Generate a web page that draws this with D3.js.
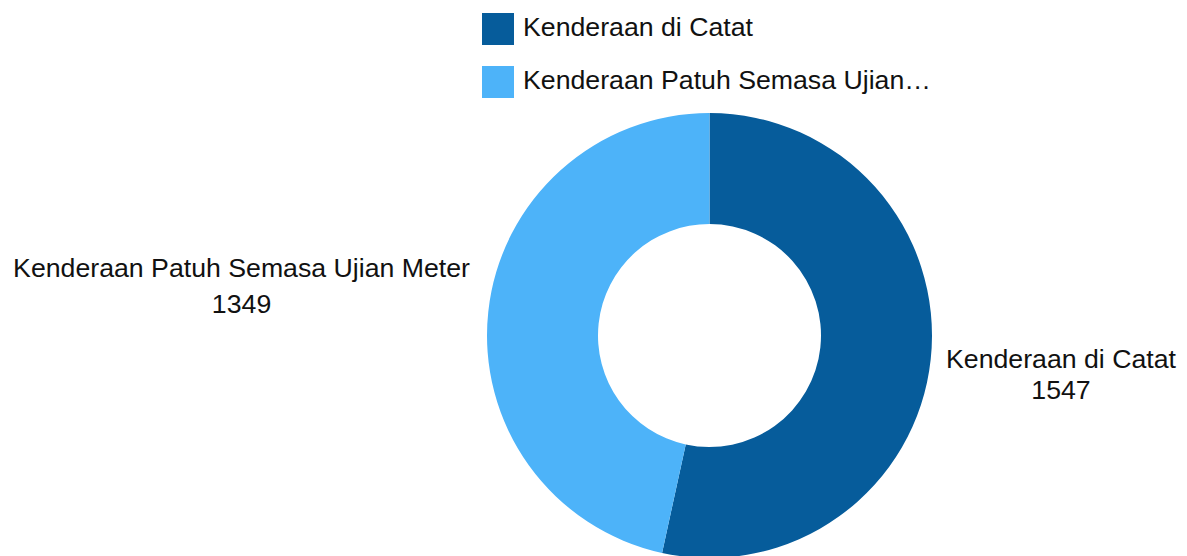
<!DOCTYPE html>
<html>
<head>
<meta charset="utf-8">
<script src="https://cdn.jsdelivr.net/npm/d3@7"></script>
<style>
  body { margin: 0; background: #fff; }
  text { font-family: "Liberation Sans", Arial, sans-serif; fill: #111; }
</style>
</head>
<body>
<script>
// chart data
var categories = ["Kenderaan di Catat", "Kenderaan Patuh Semasa Ujian Meter"];
var values = [1547, 1349];
var colors = ["#065c9b", "#4db3f9"];

var width = 1187;
var height = 556;
var cx = 709.5, cy = 335.5;
var outerR = 222.5, innerR = 111.5;
var fontSize = 26.7;

var svg = d3.select("body").append("svg")
  .attr("width", width)
  .attr("height", height);

var data = categories.map(function(c, i) { return { name: c, value: values[i], color: colors[i] }; });

var pie = d3.pie().sort(null).value(function(d) { return d.value; });
var arc = d3.arc().innerRadius(innerR).outerRadius(outerR);

var g = svg.append("g").attr("transform", "translate(" + cx + "," + cy + ")");

var arcs = pie(data);

g.selectAll("path")
  .data(arcs)
  .enter()
  .append("path")
  .attr("d", arc)
  .attr("fill", function(d) { return d.data.color; });

// slice labels, placed beside the ring on the side of each slice
// (vertical offset and line gap tuned per side)
var labelTweak = [{ dy: 32.5, gap: 31 }, { dy: -58.5, gap: 36 }];

arcs.forEach(function(a, i) {
  var mid = (a.startAngle + a.endAngle) / 2;
  var right = Math.sin(mid) > 0;
  var edgeX = right ? outerR + 14 : -(outerR + 17);
  var t = g.append("text")
    .attr("font-size", fontSize)
    .attr("text-anchor", "middle");
  var l1 = t.append("tspan").attr("x", 0).attr("y", labelTweak[i].dy).text(a.data.name);
  t.append("tspan").attr("x", 0).attr("y", labelTweak[i].dy + labelTweak[i].gap).text(a.data.value);
  var w = l1.node().getComputedTextLength();
  var x = right ? edgeX + w / 2 : edgeX - w / 2;
  t.selectAll("tspan").attr("x", x);
});

// legend
var legendX = 482, legendY = 13, rowH = 53, sw = 32, maxTextW = 410;

var legend = svg.append("g").attr("transform", "translate(" + legendX + "," + legendY + ")");

data.forEach(function(d, i) {
  var row = legend.append("g").attr("transform", "translate(0," + (i * rowH) + ")");
  row.append("rect")
    .attr("width", sw)
    .attr("height", sw)
    .attr("fill", d.color);
  var txt = row.append("text")
    .attr("x", sw + 9)
    .attr("y", 23)
    .attr("font-size", fontSize)
    .text(d.name);
  // shorten long names with an ellipsis
  var s = d.name;
  while (txt.node().getComputedTextLength() > maxTextW && s.length > 1) {
    s = s.slice(0, -1).replace(/\s+$/, "");
    txt.text(s + "\u2026");
  }
});
</script>
</body>
</html>
